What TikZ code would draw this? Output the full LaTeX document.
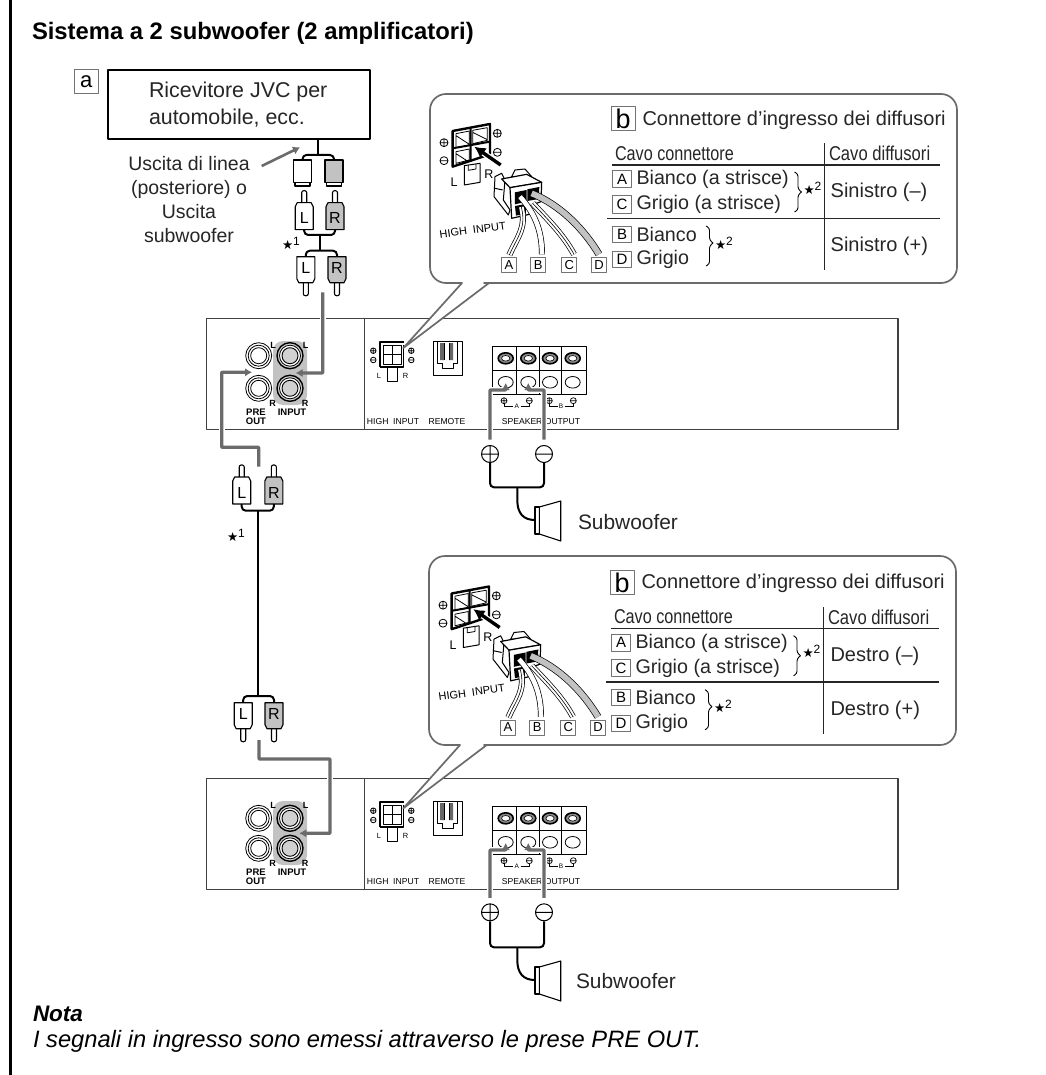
\documentclass[tikz,border=0pt]{standalone}
\usepackage{fontspec}
\setmainfont{Liberation Sans}
\newfontfamily\djv{DejaVu Sans}
\usetikzlibrary{arrows.meta}
\definecolor{wiregray}{gray}{0.42}
\definecolor{fillgray}{gray}{0.76}
\definecolor{lightfill}{gray}{0.82}
\newcommand{\fsz}[1]{\fontsize{#1}{#1}\selectfont}
\tikzset{
  txt/.style={inner sep=0pt,outer sep=0pt,font=\fsz{#1}},
  txt/.default=20,
  ltxt/.style={txt=#1,text=black!85},
  panelline/.style={draw=black!75,line width=1.1pt},
  graywire/.style={draw=wiregray,line width=3.2pt,rounded corners=0.5pt},
  halo/.style={draw=white,line width=6pt},
  grayarrow/.style={graywire,-{Latex[length=7pt,width=8.5pt]}},
  blackwire/.style={draw=black,line width=2pt,rounded corners=4pt},
  lblbox/.style={draw=black!55,line width=.7pt,fill=white,inner sep=0pt,minimum width=#1,minimum height=#1,font=\fsz{13}},
  lblbox/.default=15pt,
  rowbox/.style={draw=black!55,line width=.7pt,fill=white,inner sep=0pt,minimum width=18.5pt,minimum height=#1,font=\fsz{15}},
  thinline/.style={draw=black!85,line width=1pt},
  callout/.style={draw=wiregray,line width=1.7pt,fill=white},
}
% small circled signs
\newcommand{\cirplus}[4][.9pt]{\draw[line width=#1,fill=white] (#2,#3) circle (#4) (#2-#4,#3) -- (#2+#4,#3) (#2,#3-#4) -- (#2,#3+#4);}
\newcommand{\cirminus}[4][.9pt]{\draw[line width=#1,fill=white] (#2,#3) circle (#4) (#2-#4,#3) -- (#2+#4,#3);}
% plug with the tip upwards: name, centre x, top y, letter, fill
\newcommand{\plugup}[5]{%
  \draw[line width=1.1pt,fill=white,rounded corners=2pt] (#2-2.5,#3+13) -- (#2-2.5,#3) -- (#2+2.5,#3) -- (#2+2.5,#3+13);
  \draw[line width=1.1pt,fill=#5] (#2-7,#3+12) -- (#2+7,#3+12) -- (#2+9,#3+16) -- (#2+9,#3+39) -- (#2-9,#3+39) -- (#2-9,#3+16) -- cycle;
  \node[txt=16] (#1) at (#2,#3+27.5) {#4};
}
% plug with the tip downwards
\newcommand{\plugdown}[5]{%
  \draw[line width=1.1pt,fill=white,rounded corners=2pt] (#2-2.5,#3+26) -- (#2-2.5,#3+39) -- (#2+2.5,#3+39) -- (#2+2.5,#3+26);
  \draw[line width=1.1pt,fill=#5] (#2-9,#3) -- (#2+9,#3) -- (#2+9,#3+22) -- (#2+7,#3+26) -- (#2-7,#3+26) -- (#2-9,#3+22) -- cycle;
  \node[txt=16] (#1) at (#2,#3+11) {#4};
}
% jack
\newcommand{\jackpre}[2]{\draw[line width=.8pt,fill=white] (#1,#2) circle (13);\draw[line width=.8pt] (#1,#2) circle (10.5) (#1,#2) circle (8);}
\newcommand{\jackin}[2]{\draw[line width=1.4pt,fill=lightfill] (#1,#2) circle (13);\draw[line width=.8pt,fill=white] (#1,#2) circle (10.5);\draw[line width=.9pt,fill=lightfill] (#1,#2) circle (8);}
% amplifier panel: prefix, jack y1, jack y2 (in the first panel's frame)
\newcommand{\ampunit}[3]{%
  \draw[panelline] (206.5,318.5) rectangle (898,429.5);
  \draw[panelline] (364.5,318.5) -- (364.5,429.5);
  \fill[fillgray,rounded corners=10pt] (273,341) rectangle (307,405);
  \jackpre{258.7}{#2}\jackpre{258.7}{#3}\jackin{290}{#2}\jackin{290}{#3}
  \node[txt=9] (#1LA) at (273,345) {\textbf{L}};
  \node[txt=9] (#1LB) at (305.5,345) {\textbf{L}};
  \node[txt=9] (#1RA) at (272.7,403) {\textbf{R}};
  \node[txt=9] (#1RB) at (305,403) {\textbf{R}};
  \node[txt=9.5,align=center] (#1pre) at (256,416.5) {\textbf{PRE}\\[-.5pt]\textbf{OUT}};
  \node[txt=9.5] (#1inp) at (292,412) {\textbf{INPUT}};
  % high input
  \draw[line width=1pt,fill=white] (387,366.7) rectangle (397.5,381.5);
  \draw[line width=1.6pt,fill=white] (380,366.7) -- (380,341.7) -- (403.5,341.7);
  \draw[line width=1.6pt] (403.5,345) -- (403.5,366.7) -- (380,366.7);
  \draw[line width=1pt] (383,345) rectangle (401,364) (392,345) -- (392,364) (383,354) -- (401,354);
  \cirplus[.8pt]{373.3}{350.7}{2.8}\cirminus[.8pt]{373.3}{360}{2.8}
  \cirplus[.8pt]{411.3}{350.7}{2.8}\cirminus[.8pt]{411.3}{360}{2.8}
  \node[txt=7.5] (#1hl) at (379,375.7) {L};
  \node[txt=7.5] (#1hr) at (405.7,375.7) {R};
  \node[txt=8.6] (#1hi) at (393,421.7) {HIGH\ \ INPUT};
  \node[txt=8.6] (#1rem) at (447,421.7) {REMOTE};
  % remote
  \draw[line width=1pt,fill=white] (433,341.7) rectangle (462,375.7);
  \fill[black!60] (440,343) rectangle (444,360) (449,343) rectangle (453,360);
  \draw[line width=.8pt] (437.3,342) -- (437.3,363) -- (442,363) -- (442,368.5) -- (453,368.5) -- (453,363) -- (457.7,363) -- (457.7,342) (444,343) -- (444,360) (449,343) -- (449,360);
  % terminals
  \draw[line width=1pt,fill=white] (492.3,346.7) rectangle (586,394);
  \draw[line width=.8pt] (516.7,346.7) -- (516.7,394) (539.3,346.7) -- (539.3,394) (561.7,346.7) -- (561.7,394) (492.3,370.7) -- (586,370.7);
  \foreach \sx in {505.7,528.3,550,572.7}{
    \draw[line width=1.6pt,fill=black!45] (\sx,358.3) ellipse (7.5 and 5.5);
    \draw[line width=.6pt,fill=white] (\sx,358.3) ellipse (4.2 and 2.8);
    \draw[line width=.8pt,fill=white] (\sx,382.3) ellipse (7.5 and 5.8);
  }
  \cirplus[.7pt]{504}{400.7}{3}\cirminus[.7pt]{529.3}{400.7}{3}
  \cirplus[.7pt]{549.3}{400.7}{3}\cirminus[.7pt]{573.3}{400.7}{3}
  \draw[line width=.6pt] (504,403.5) -- (504,406.5) -- (513,406.5) (520.5,406.5) -- (529.3,406.5) -- (529.3,403.5);
  \draw[line width=.6pt] (549.3,403.5) -- (549.3,406.5) -- (557.5,406.5) (564.5,406.5) -- (573.3,406.5) -- (573.3,403.5);
  \node[txt=6.5] (#1A) at (516.7,406.7) {A};
  \node[txt=6.5] (#1B) at (561,406.7) {B};
  \node[txt=8.6] (#1spk) at (541,421.7) {SPEAKER OUTPUT};
}
% part of the panel wiring: prefix, circle y
\newcommand{\ampwires}[2]{%
  \coordinate (#1pa) at (490,#2);
  \coordinate (#1ma) at (544,#2);
  \draw[halo] (490,#2-14.5) -- (490,390) -- (504,390);
  \draw[halo] (544,#2-14.5) -- (544,390) -- (530,390);
  \draw[grayarrow] (490,#2-14.5) -- (490,390) -- (505.7,390) -- (505.7,383);
  \draw[grayarrow] (544,#2-14.5) -- (544,390) -- (528.3,390) -- (528.3,383);
  \cirplus[1pt]{490}{#2}{8.5}\cirminus[1pt]{544}{#2}{8.5}
  \draw[blackwire] (490,#2+9) -- (490,487.3) -- (544,487.3) -- (544,#2+9);
  \coordinate (#1spk1) at (535,520);
  \draw[draw=black,line width=2pt] (517.3,487.3) -- (517.3,500) .. controls (517.3,513) and (523,520) .. (#1spk1);
  \draw[line width=1.1pt,fill=white] (535,507) rectangle (539.3,534);
  \draw[line width=1.1pt,fill=white] (539.3,507) -- (560.7,501) -- (560.7,541) -- (539.3,534) -- cycle;
}
% drawing of the connector inside the callouts, in zoom units
\newcommand{\hiconn}[1]{%
  \draw[line width=2.4pt,fill=white] (68,108) -- (180,87) -- (180,178) -- (68,215) -- cycle;
  \draw[line width=.8pt] (78,116) -- (118,108) -- (118,150) -- (78,158) -- cycle (78,122) -- (118,148);
  \draw[line width=.8pt] (128,106) -- (172,98) -- (172,136) -- (128,146) -- cycle (128,112) -- (172,134);
  \draw[line width=.8pt] (78,170) -- (118,162) -- (118,195) -- (78,205) -- cycle (78,176) -- (112,198);
  \draw[line width=2pt] (68,160) -- (180,140) (122,100) -- (122,200);
  \draw[line width=1pt,fill=white] (103,212) -- (150,205) -- (150,262) -- (103,270) -- cycle;
  \draw[line width=.8pt] (115,210) -- (115,226) -- (138,222) -- (138,207);
  \draw[draw=white,line width=6pt] (212,210) -- (150,167);
  \draw[line width=3.4pt,-{Latex[length=11pt,width=12pt]}] (212,210) -- (133,155);
  \cirplus[.8pt]{42}{143}{12}\cirminus[.8pt]{42}{197}{12}
  \cirplus[.8pt]{202}{115}{12}\cirminus[.8pt]{202}{172}{12}
  \node[txt=12.5] (#1L) at (72,262) {L};
  \node[txt=12.5] (#1R) at (177,238) {R};
  \node[txt=11,rotate=8] (#1hi) at (128,405) {HIGH\ \ INPUT};
  % plug
  \draw[line width=1pt,fill=white] (245,245) -- (255,225) -- (285,222) -- (305,245) -- cycle;
  \draw[line width=1pt,fill=white] (195,245) -- (215,235) -- (225,255) -- (220,315) -- (240,345) -- (235,360) -- (192,305) -- cycle (195,280) -- (218,285);
  \draw[line width=1.2pt,fill=white] (215,252) -- (290,238) -- (335,262) -- (240,278) -- cycle;
  \draw[line width=1.2pt,fill=white] (240,278) -- (335,262) -- (333,320) -- (300,332) -- (298,358) -- (245,370) -- cycle;
  \fill[black] (255,292) -- (290,285) -- (290,320) -- (255,328) -- cycle (292,283) -- (328,276) -- (326,312) -- (292,318) -- cycle (255,333) -- (288,327) -- (288,355) -- (258,362) -- cycle;
  % cables
  \draw[line width=6pt] (274,336) .. controls (290,400) and (262,425) .. (238,480);
  \draw[line width=4.6pt,white] (274,336) .. controls (290,400) and (262,425) .. (238,480);
  \draw[line width=.6pt] (274,336) .. controls (290,400) and (262,425) .. (238,480);
  \draw[line width=6pt] (270,305) .. controls (310,350) and (336,400) .. (336,478);
  \draw[line width=4.6pt,white] (270,305) .. controls (310,350) and (336,400) .. (336,478);
  \draw[line width=6pt] (308,325) .. controls (360,380) and (400,420) .. (432,478);
  \draw[line width=4.6pt,white] (308,325) .. controls (360,380) and (400,420) .. (432,478);
  \draw[line width=.6pt] (308,325) .. controls (360,380) and (400,420) .. (432,478);
  \draw[line width=7.2pt] (305,295) .. controls (390,330) and (460,400) .. (507,478);
  \draw[line width=5.8pt,fillgray] (305,295) .. controls (390,330) and (460,400) .. (507,478);
  \node[lblbox] (#1a) at (237,510) {A};
  \node[lblbox] (#1b) at (325,510) {B};
  \node[lblbox] (#1c) at (418,510) {C};
  \node[lblbox] (#1d) at (507,510) {D};
}
\newcommand{\brc}[4]{% x, top, middle, bottom
  \draw[line width=.9pt,rounded corners=2.5pt] (#1,#2) -- (#1+3.5,#2+2) -- (#1+3.5,#3-3) -- (#1+7,#3);
  \draw[line width=.9pt,rounded corners=2.5pt] (#1+7,#3) -- (#1+3.5,#3+3) -- (#1+3.5,#4-2) -- (#1,#4);
}
\newcommand{\stars}[1]{{\djv\fsz{12.5}★}\raisebox{#1}{\fsz{12}2}}
% table: prefix, word, x of the word
\newcommand{\calltable}[3]{%
  \node[lblbox=24pt,font=\fsz{27}] (#1bb) at (623,118.7) {b};
  \node[ltxt=20,anchor=west] (#1tt) at (642.5,120) {Connettore d’ingresso dei diffusori};
  \draw[thinline] (824.3,143.3) -- (824.3,270);
  \draw[thinline,line width=1.2pt] (611.7,165) -- (940,165);
  \draw[thinline,line width=1.2pt] (607.3,218.3) -- (940,218.3);
  \node[ltxt=20,anchor=west] (#1c1) at (615,153.3) {\scalebox{.81}[1]{Cavo connettore}};
  \node[ltxt=20,anchor=west] (#1c2) at (829,153.3) {\scalebox{.83}[1]{Cavo diffusori}};
  \node[rowbox=17.5pt] (#1ra) at (622,179) {A};
  \node[rowbox=17.5pt] (#1rc) at (622,204.3) {C};
  \node[rowbox=16pt] (#1rb) at (622,234) {B};
  \node[rowbox=16pt] (#1rd) at (622,259.3) {D};
  \node[ltxt=19.7,anchor=west] (#1ta) at (636.5,179.3) {Bianco (a strisce)};
  \node[ltxt=19.7,anchor=west] (#1tc) at (636.5,204.5) {Grigio (a strisce)};
  \node[ltxt=19.7,anchor=west] (#1tb) at (636.5,234) {Bianco};
  \node[ltxt=19.7,anchor=west] (#1td) at (636.5,259.3) {Grigio};
  \brc{794.5}{172}{192}{212}
  \brc{706}{226}{243}{266}
  \node[txt=14,anchor=west] (#1s1) at (803.5,188) {\stars{4pt}};
  \node[txt=14,anchor=west] (#1s2) at (715,243) {\stars{4pt}};
  \node[ltxt=20,anchor=west] (#1w1) at (#3,192.7) {#2 (–)};
  \node[ltxt=20,anchor=west] (#1w2) at (#3,246.7) {#2 (+)};
}
\begin{document}
\begin{tikzpicture}[x=1pt,y=-1pt,line join=round]
\useasboundingbox[fill=white] (0,0) rectangle (1045,1075);
\draw[line width=3pt] (10.5,0) -- (10.5,1075);
\node[txt=23.8,anchor=west] (title) at (32,33) {\textbf{Sistema a 2 subwoofer (2 amplificatori)}};

% receiver
\node[lblbox=24pt,font=\fsz{22}] (abox) at (86.3,81.7) {a};
\node[draw,line width=2.4pt,minimum width=262pt,minimum height=69pt,inner sep=0pt,fill=white] (rx) at (238.8,104.7) {};
\node[ltxt=21.4,align=left,anchor=west] (rxt) at (149,104.5) {Ricevitore JVC per\\[5pt]automobile, ecc.};
\node[ltxt=19.5,align=center] (ulab) at (189,199.5) {Uscita di linea\\[4.5pt](posteriore) o\\[4.5pt]Uscita\\[4.5pt]subwoofer};
\coordinate (ua) at (261.7,166);
\coordinate (ub) at (300,147.3);
\draw[grayarrow,line width=2.6pt] (ua) -- (ub);

% sockets
\coordinate (sl) at (302.5,160);
\coordinate (sr) at (334,160);
\draw[blackwire] (sl) -- (302.5,155) -- (334,155) -- (sr);
\draw[blackwire,rounded corners=0pt] (rx.south -| 318.3,0) -- (318.3,155);
\draw[line width=1.1pt,fill=white] (293.5,160) rectangle (311.5,182.7);
\draw[line width=1.1pt,fill=white] (295,182.7) rectangle (310,186);
\draw[line width=1.1pt,fill=fillgray] (325,160) rectangle (343,182.7);
\draw[line width=1.1pt,fill=white] (326.5,182.7) rectangle (341.5,186);

% first cable
\plugup{p1l}{304.2}{190.7}{L}{white}
\plugup{p1r}{335}{190.7}{R}{fillgray}
\plugdown{p2l}{305.8}{256.7}{L}{white}
\plugdown{p2r}{337}{256.7}{R}{fillgray}
\draw[blackwire] (p1l |- 0,230) -- (p1l |- 0,235) -- (p1r |- 0,235) -- (p1r |- 0,230);
\draw[blackwire] (p2l |- 0,256.7) -- (p2l |- 0,250.7) -- (p2r |- 0,250.7) -- (p2r |- 0,256.7);
\draw[blackwire,rounded corners=0pt] (320,235) -- (320,250.7);
\node[txt=14,anchor=west] (st1) at (282,243) {{\djv\fsz{12.5}★}\raisebox{4pt}{\fsz{12}1}};

% first panel
\ampunit{u}{355.7}{388.3}
\ampwires{u}{454}
\node[ltxt=20.9,anchor=west] (sub1) at (578,522) {Subwoofer};

% second panel
\begin{scope}[shift={(0,460)}]
\ampunit{v}{358.3}{388.3}
\ampwires{v}{452.3}
\end{scope}
\node[ltxt=20.9,anchor=west] (sub2) at (576,981) {Subwoofer};

% gray signal wires
\coordinate (w1a) at (322.7,292.3);
\coordinate (w1b) at (295.7,373);
\draw[halo] (w1a |- 0,310) -- (w1a |- 0,330);
\draw[grayarrow] (w1a) -- (322.7,373) -- (w1b);
\coordinate (w2a) at (258.7,466.7);
\coordinate (w2b) at (252,372.3);
\draw[halo] (221.7,415) -- (221.7,440);
\draw[grayarrow] (w2a) -- (258.7,447.3) -- (221.7,447.3) -- (221.7,372.3) -- (w2b);
\coordinate (w3a) at (259,740);
\coordinate (w3b) at (299.3,833.3);
\draw[halo] (330,770) -- (330,790);
\draw[grayarrow] (w3a) -- (259,759) -- (330,759) -- (330,833.3) -- (w3b);

% second cable
\plugup{p3l}{241.7}{465}{L}{white}
\plugup{p3r}{273.8}{465}{R}{fillgray}
\plugdown{p4l}{243.2}{702.7}{L}{white}
\plugdown{p4r}{274}{702.7}{R}{fillgray}
\draw[blackwire] (p3l |- 0,504) -- (p3l |- 0,510.7) -- (p3r |- 0,510.7) -- (p3r |- 0,504);
\draw[blackwire] (p4l |- 0,702.7) -- (p4l |- 0,696) -- (p4r |- 0,696) -- (p4r |- 0,702.7);
\draw[blackwire,rounded corners=0pt] (257.7,510.7) -- (257.7,696);
\node[txt=14,anchor=west] (st2) at (227,535) {{\djv\fsz{12.5}★}\raisebox{4pt}{\fsz{12}1}};

% callout 1
\draw[callout] (450,283) [rounded corners=16pt] -- (430,283) -- (430,94) -- (957,94) -- (957,283) -- (500,283) [sharp corners] -- (489,283) -- (403.3,348) -- (462,283) -- cycle;
\begin{scope}[shift={(430,95)},x=.3333pt,y=-.3333pt]
\hiconn{ca}
\end{scope}
\calltable{ta}{Sinistro}{830.7}

% callout 2
\draw[callout] (449,745) [rounded corners=16pt] -- (429,745) -- (429,556) -- (956,556) -- (956,745) -- (500,745) [sharp corners] -- (486.7,745) -- (403.3,808.3) -- (460,745) -- cycle;
\begin{scope}[shift={(429,557.5)},x=.3333pt,y=-.3333pt]
\hiconn{cb}
\end{scope}
\begin{scope}[shift={(-1,463.7)}]
\calltable{tb}{Destro}{831.5}
\end{scope}

% note
\node[txt=22.5,anchor=west] (nota) at (33,1014) {\textbf{\textit{Nota}}};
\node[txt=23.7,anchor=west] (notb) at (33,1041) {\textit{I segnali in ingresso sono emessi attraverso le prese PRE OUT.}};
\end{tikzpicture}
\end{document}
